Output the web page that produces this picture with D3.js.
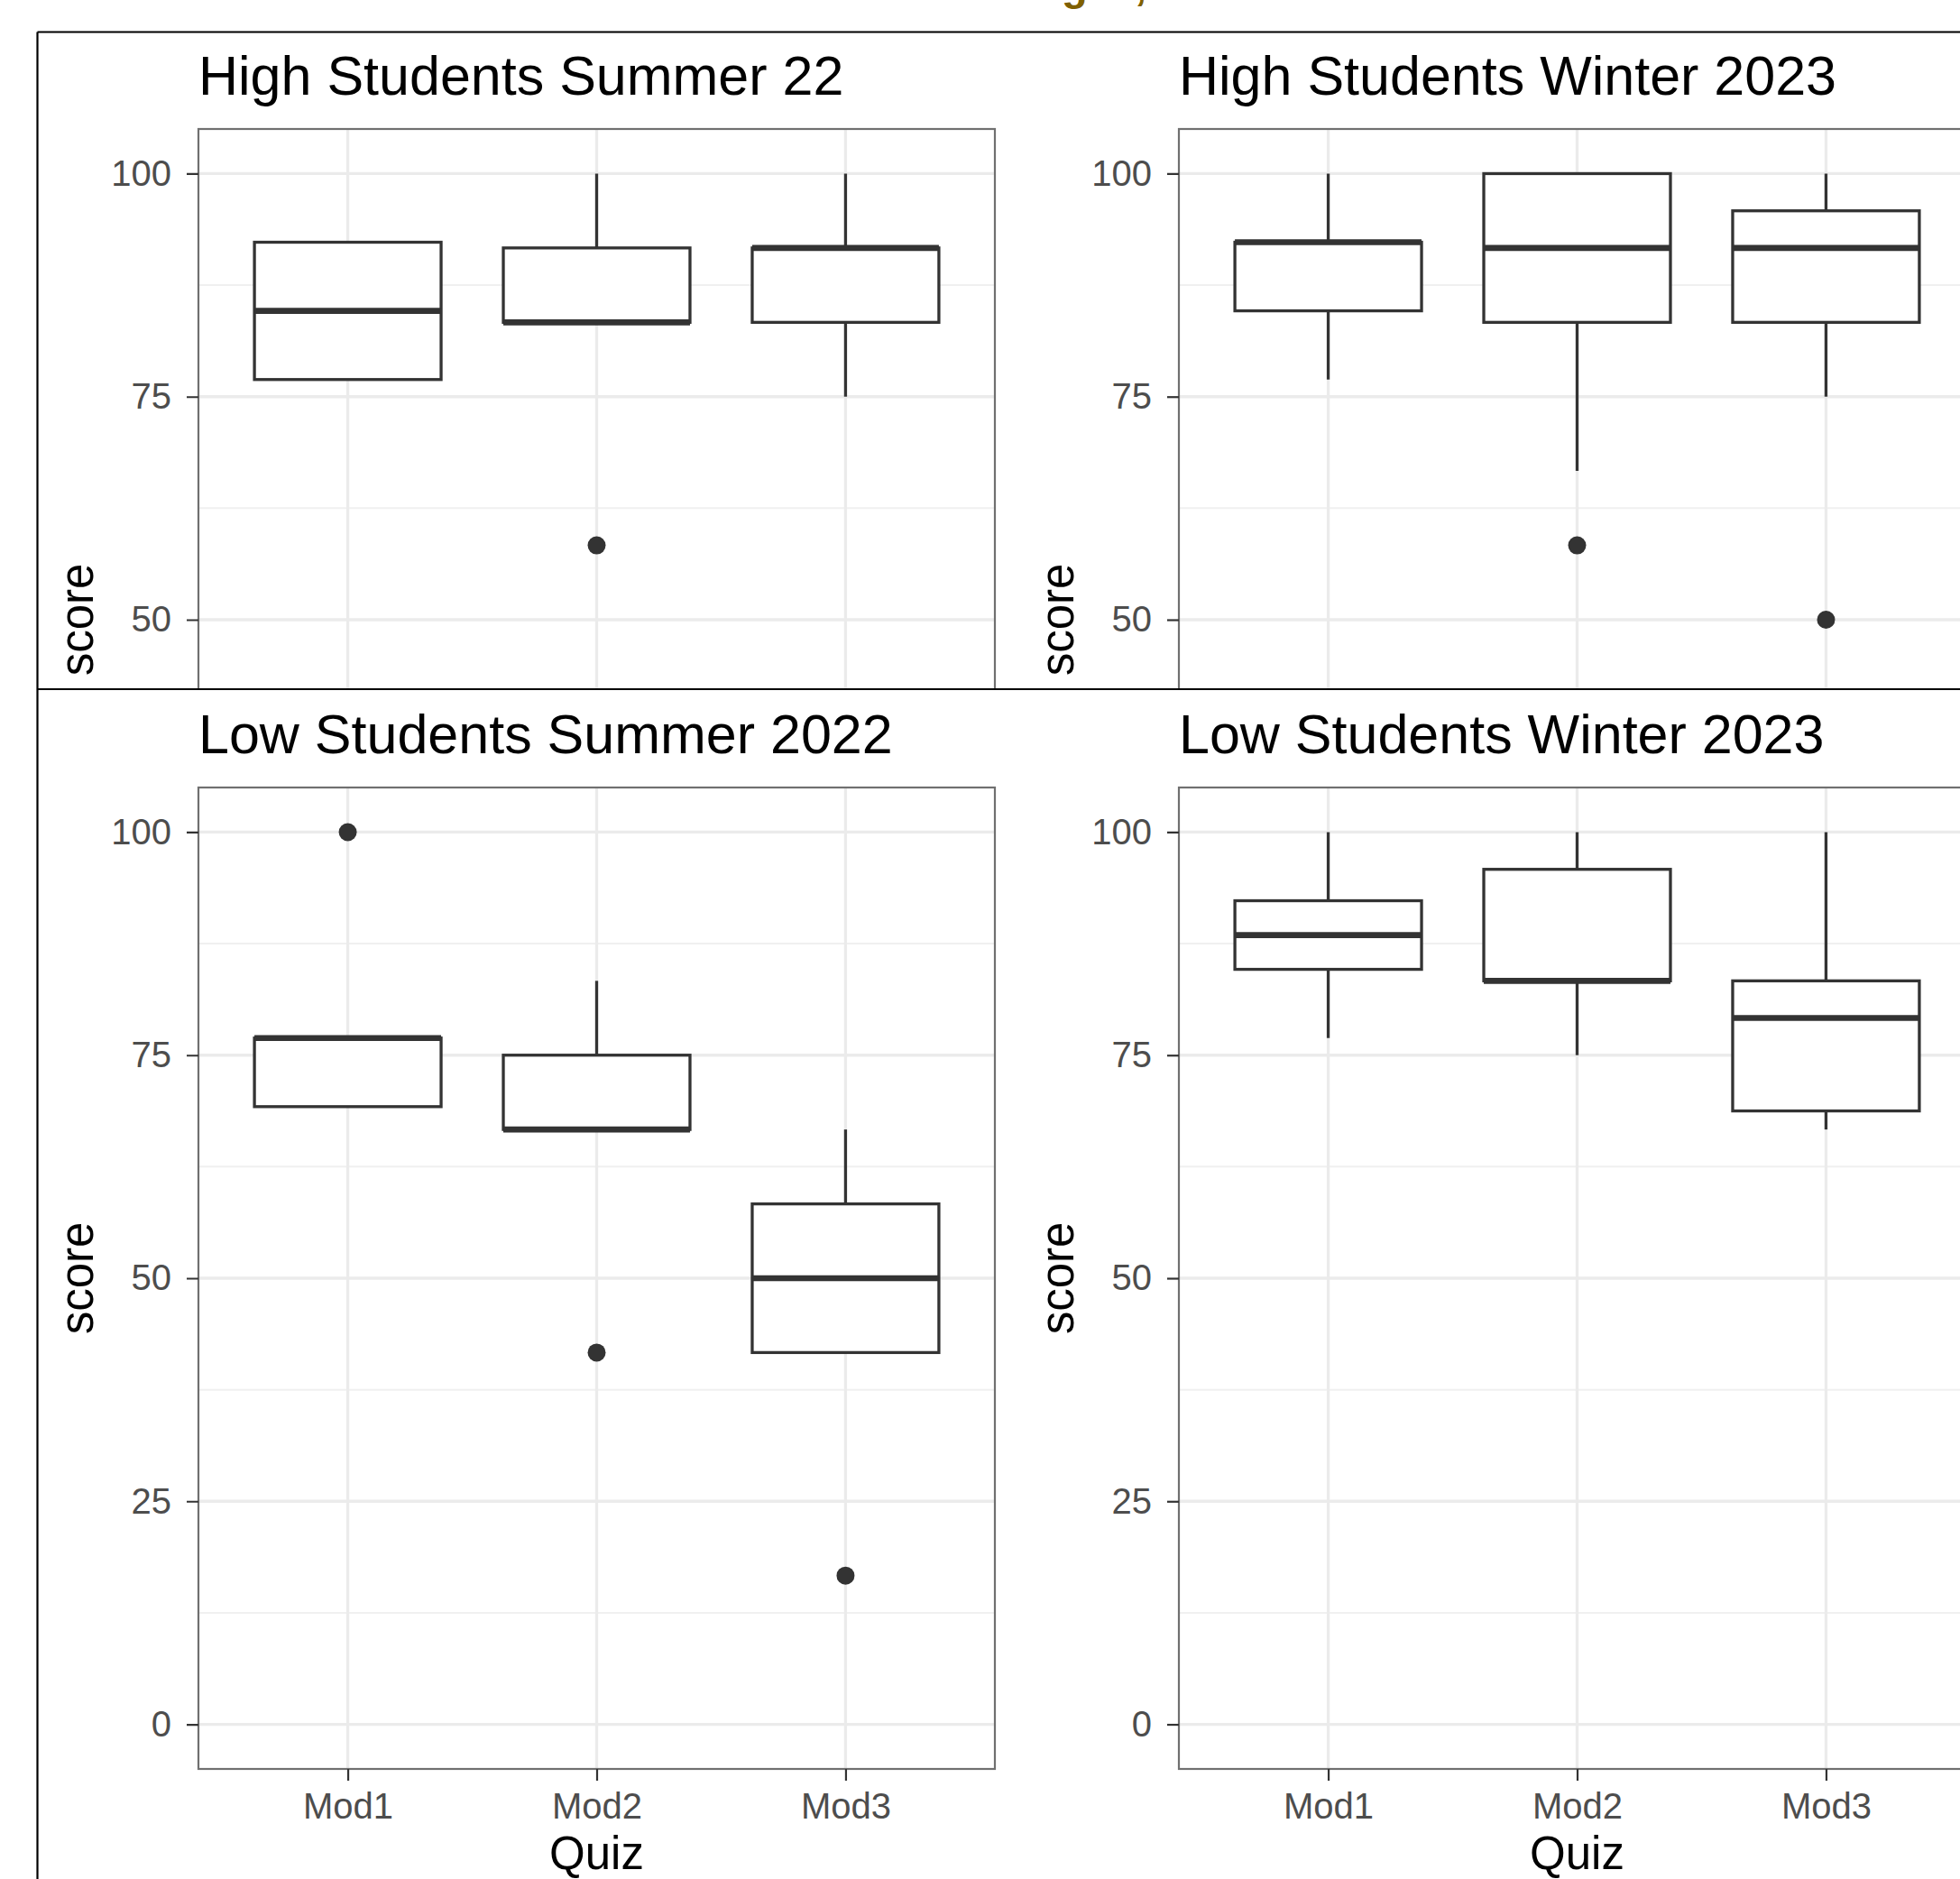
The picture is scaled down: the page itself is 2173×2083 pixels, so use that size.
<!DOCTYPE html>
<html>
<head>
<meta charset="utf-8">
<script src="https://cdn.jsdelivr.net/npm/d3@7"></script>
<style>
  html, body { margin: 0; padding: 0; background: #ffffff; }
  svg { display: block; }
  text { font-family: "Liberation Sans", Arial, Helvetica, sans-serif; }
</style>
</head>
<body>
<svg id="chart" width="2173" height="2083"></svg>
<script>
// ---------------- data ----------------
const mainTitle = "Module Score Ranges, Summer vs Winter";
const panelTitles = [
  "High Students Summer 22",
  "High Students Winter 2023",
  "Low Students Summer 2022",
  "Low Students Winter 2023"
];
const quizzes = ["Mod1", "Mod2", "Mod3"];
const yTicks = [0, 25, 50, 75, 100];
const yMinorTicks = [12.5, 37.5, 62.5, 87.5];
const xTitle = "Quiz";
const yTitle = "score";

// box statistics per panel, one value per quiz
const lowerWhisker = [
  [76.92, 83.33, 75.00],
  [76.92, 66.67, 75.00],
  [69.23, 66.67, 41.67],
  [76.92, 75.00, 66.67]
];
const q1Values = [
  [76.92, 83.33, 83.33],
  [84.62, 83.33, 83.33],
  [69.23, 66.67, 41.67],
  [84.62, 83.33, 68.75]
];
const medianValues = [
  [84.62, 83.33, 91.67],
  [92.31, 91.67, 91.67],
  [76.92, 66.67, 50.00],
  [88.46, 83.33, 79.17]
];
const q3Values = [
  [92.31, 91.67, 91.67],
  [92.31, 100.00, 95.83],
  [76.92, 75.00, 58.33],
  [92.31, 95.83, 83.33]
];
const upperWhisker = [
  [92.31, 100.00, 100.00],
  [100.00, 100.00, 100.00],
  [76.92, 83.33, 66.67],
  [100.00, 100.00, 100.00]
];
const outlierValues = [
  [[], [58.33], []],
  [[], [58.33], [50.00]],
  [[100.00], [41.67], [16.67]],
  [[], [], []]
];

// ---------------- layout ----------------
const W = 2173, H = 2083;
const colLeft = [220, 1307];
const rowTop = [143, 873];
const plotW = 883, plotH = 1088;
const frameLeft = 41.5, frameTop = 35.5, rowDivider = 764;
const rowClip = [[frameTop + 1, rowDivider - 1], [rowDivider + 1, H]];

const svg = d3.select("#chart");
const defs = svg.append("defs");
rowClip.forEach((r, i) => {
  defs.append("clipPath").attr("id", "rowclip" + i)
    .append("rect").attr("x", frameLeft + 1).attr("y", r[0])
    .attr("width", W - frameLeft).attr("height", r[1] - r[0]);
});

const x = d3.scalePoint().domain(quizzes).range([0, plotW]).padding(0.6);
const y = d3.scaleLinear().domain([-5, 105]).range([plotH, 0]);
const boxW = x.step() * 0.75;

const dark = "#333333";

panelTitles.forEach((title, p) => {
  const col = p % 2, row = Math.floor(p / 2);
  const clipBottom = rowClip[row][1];
  const visibleTicks = yTicks.filter(v => rowTop[row] + y(v) + 16 < clipBottom);
  const showXAxis = rowTop[row] + plotH + 60 < clipBottom;

  const cell = svg.append("g").attr("clip-path", "url(#rowclip" + row + ")");
  const g = cell.append("g").attr("transform", `translate(${colLeft[col]},${rowTop[row]})`);

  // panel background
  g.append("rect").attr("width", plotW).attr("height", plotH).attr("fill", "#ffffff");

  // grid
  g.selectAll(".minor").data(yMinorTicks).enter().append("line")
    .attr("x1", 0).attr("x2", plotW)
    .attr("y1", d => y(d)).attr("y2", d => y(d))
    .attr("stroke", "#f0f0f0").attr("stroke-width", 2);
  g.selectAll(".majorY").data(yTicks).enter().append("line")
    .attr("x1", 0).attr("x2", plotW)
    .attr("y1", d => y(d)).attr("y2", d => y(d))
    .attr("stroke", "#ebebeb").attr("stroke-width", 3.3);
  g.selectAll(".majorX").data(quizzes).enter().append("line")
    .attr("x1", d => x(d)).attr("x2", d => x(d))
    .attr("y1", 0).attr("y2", plotH)
    .attr("stroke", "#ebebeb").attr("stroke-width", 3.3);

  // boxes
  quizzes.forEach((q, i) => {
    const cx = x(q);
    const lo = lowerWhisker[p][i], b1 = q1Values[p][i], md = medianValues[p][i],
          b3 = q3Values[p][i], hi = upperWhisker[p][i];
    if (hi > b3) g.append("line").attr("x1", cx).attr("x2", cx)
      .attr("y1", y(b3)).attr("y2", y(hi)).attr("stroke", dark).attr("stroke-width", 3.3);
    if (lo < b1) g.append("line").attr("x1", cx).attr("x2", cx)
      .attr("y1", y(b1)).attr("y2", y(lo)).attr("stroke", dark).attr("stroke-width", 3.3);
    g.append("rect")
      .attr("x", cx - boxW / 2).attr("width", boxW)
      .attr("y", y(b3)).attr("height", y(b1) - y(b3))
      .attr("fill", "#ffffff").attr("stroke", dark).attr("stroke-width", 3.3);
    g.append("line")
      .attr("x1", cx - boxW / 2).attr("x2", cx + boxW / 2)
      .attr("y1", y(md)).attr("y2", y(md))
      .attr("stroke", dark).attr("stroke-width", 6.6);
    g.selectAll(null).data(outlierValues[p][i]).enter().append("circle")
      .attr("cx", cx).attr("cy", d => y(d)).attr("r", 10)
      .attr("fill", dark);
  });

  // panel border
  g.append("rect").attr("width", plotW).attr("height", plotH)
    .attr("fill", "none").attr("stroke", "#707070").attr("stroke-width", 2.2);

  // y axis
  const ya = g.append("g").call(d3.axisLeft(y).tickValues(visibleTicks).tickSize(13).tickPadding(17));
  ya.select(".domain").remove();
  ya.selectAll(".tick line").attr("stroke", dark).attr("stroke-width", 2.2);
  ya.selectAll(".tick text").attr("fill", "#4d4d4d").style("font-size", "40px")
    .style("font-family", "'Liberation Sans', Arial, sans-serif");

  // x axis (only where it is not cut off by the next row)
  if (showXAxis) {
    const xa = g.append("g").attr("transform", `translate(0,${plotH})`)
      .call(d3.axisBottom(x).tickSize(13).tickPadding(14));
    xa.select(".domain").remove();
    xa.selectAll(".tick line").attr("stroke", dark).attr("stroke-width", 2.2);
    xa.selectAll(".tick text").attr("fill", "#4d4d4d").style("font-size", "40px")
      .style("font-family", "'Liberation Sans', Arial, sans-serif");
    g.append("text").attr("x", plotW / 2).attr("y", plotH + 111)
      .attr("text-anchor", "middle").attr("fill", "#000").style("font-size", "51px").text(xTitle);
  }

  // titles
  g.append("text").attr("x", 0).attr("y", -38)
    .attr("fill", "#000").style("font-size", "61px").text(title);
  g.append("text").attr("transform", `translate(${-colLeft[0] + 103},${plotH / 2}) rotate(-90)`)
    .attr("text-anchor", "middle").attr("fill", "#000").style("font-size", "51px").text(yTitle);
});

// frame lines
svg.append("line").attr("x1", frameLeft).attr("x2", W).attr("y1", frameTop).attr("y2", frameTop)
  .attr("stroke", "#000").attr("stroke-width", 2.2);
svg.append("line").attr("x1", frameLeft).attr("x2", frameLeft).attr("y1", frameTop).attr("y2", H)
  .attr("stroke", "#000").attr("stroke-width", 2.2);
svg.append("line").attr("x1", frameLeft).attr("x2", W).attr("y1", rowDivider).attr("y2", rowDivider)
  .attr("stroke", "#000").attr("stroke-width", 2.2);

// main title (mostly cut off at the top of the picture, as in the reference)
const mt = svg.append("text").attr("x", 0).attr("y", 0)
  .attr("fill", "#7f6000").style("font-size", "47px").style("font-weight", "bold")
  .text(mainTitle);
const gi = mainTitle.indexOf("g");
const gx = mt.node().getStartPositionOfChar(gi).x;
mt.attr("x", 1177 - gx);
</script>
</body>
</html>
